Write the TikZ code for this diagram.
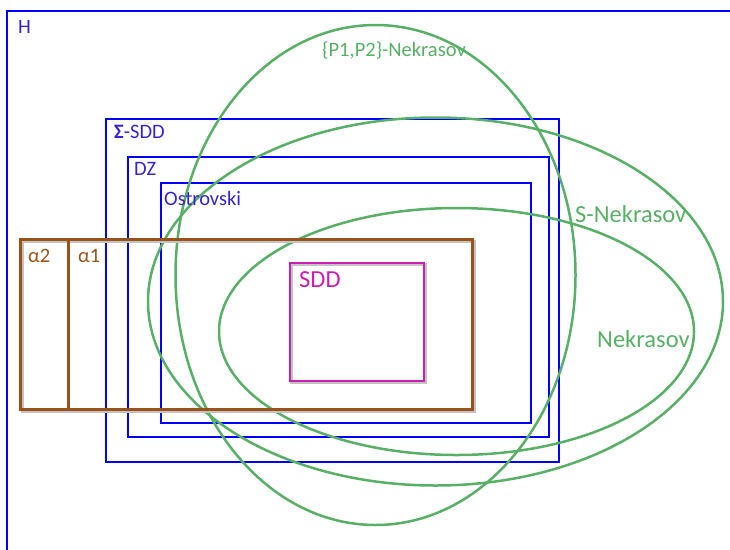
\documentclass[tikz,border=0pt]{standalone}
\usepackage{fontspec}
\setmainfont{Carlito}
\definecolor{rblue}{RGB}{0,0,255}
\definecolor{tblue}{RGB}{55,35,215}
\definecolor{rgreen}{RGB}{88,176,102}
\definecolor{rbrown}{RGB}{155,82,26}
\definecolor{rmag}{RGB}{204,30,178}
\definecolor{shade}{RGB}{195,195,195}
\tikzset{
  setbox/.style={draw=rblue, line width=2.6pt},
  setell/.style={draw=rgreen, line width=2.5pt},
  alphabox/.style={draw=rbrown, line width=3pt},
  shadowbox/.style={draw=shade, line width=3pt},
  sddbox/.style={draw=rmag, line width=2.5pt},
  smalllab/.style={anchor=base west, inner sep=0pt, font=\fontsize{20.5}{22}\selectfont},
  biglab/.style={anchor=base west, inner sep=0pt, font=\fontsize{24.5}{26}\selectfont},
}
\begin{document}
\begin{tikzpicture}[x=1pt,y=-1pt]
\useasboundingbox (0,0) rectangle (730,549);
% H
\draw[setbox] (7,552) -- (7,11) -- (733,11);
% blue rectangles
\draw[setbox] (106,119) rectangle (559,462);
\draw[setbox] (128,157) rectangle (549,437);
\draw[setbox] (161,183) rectangle (531,423);
% green ellipses
\draw[setell] (375.5,275) ellipse [x radius=200, y radius=250];
\draw[setell] (435.5,301.5) ellipse [x radius=287.5, y radius=184];
\draw[setell] (456.5,331.5) ellipse [x radius=237.5, y radius=123.5];
% alpha boxes
\draw[shadowbox] (22,241) rectangle (474,411);
\draw[alphabox] (20,239) rectangle (472,409);
\draw[alphabox] (68,239) rectangle (472,409);
\draw[rbrown, line width=1.5pt] (68,240.5) -- (472,240.5) -- (472,409);
% SDD box
\draw[draw=shade, line width=2.4pt] (291.5,264.5) rectangle (425.5,382.5);
\draw[sddbox] (290,263) rectangle (424,381);
% labels
\node[smalllab, text=tblue] (lH) at (18,33) {H};
\node[smalllab, text=tblue] (lSig) at (114,138) {{\bfseries Σ}-SDD};
\node[smalllab, text=tblue] (lDZ) at (134,175) {DZ};
\node[smalllab, text=tblue] (lOst) at (164,205) {Ostrovski};
\node[smalllab, text=rbrown] (la2) at (28,262) {α2};
\node[smalllab, text=rbrown] (la1) at (78,262) {α1};
\node[biglab, text=rmag] (lSDD) at (299,287) {SDD};
\node[biglab, text=rgreen] (lSN) at (575,222) {S-Nekrasov};
\node[biglab, text=rgreen] (lN) at (597,347) {Nekrasov};
\node[smalllab, text=rgreen] (lP) at (322,56) {\{P1,P2\}-Nekrasov};
\end{tikzpicture}
\end{document}
